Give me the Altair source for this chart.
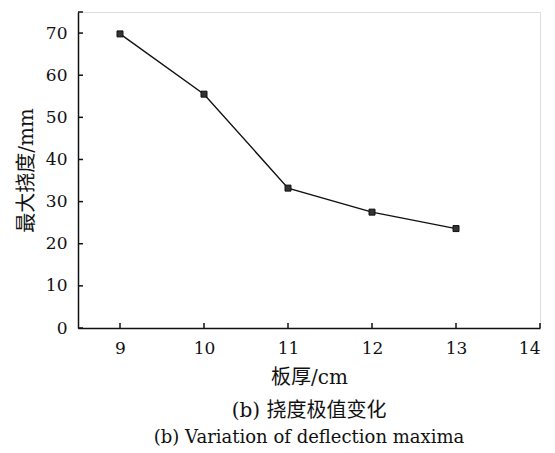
import altair as alt
import pandas as pd

thickness = [9, 10, 11, 12, 13]
deflection = [69.8, 55.5, 33.2, 27.5, 23.6]
x_ticks = [9, 10, 11, 12, 13, 14]
y_ticks = [0, 10, 20, 30, 40, 50, 60, 70, 75]

FONT = "DejaVu Serif, Noto Sans CJK SC"
W, H = 462, 316

df = pd.DataFrame({"t": thickness, "d": deflection})
xs = alt.Scale(domain=[8.5, 14], nice=False, zero=False)
ys = alt.Scale(domain=[0, 75], nice=False)

common = dict(ticks=False, grid=False, labelFontSize=17, labelColor="#111",
              titleFontSize=20, titleColor="#111", titleFontWeight="normal",
              labelFont=FONT, titleFont=FONT, domainColor="#111", domainWidth=1.5,
              format="d")
x_axis = alt.Axis(values=x_ticks, labelPadding=12, titlePadding=11, **common)
y_axis = alt.Axis(values=y_ticks[:-1], labelPadding=11, titlePadding=9, **common)

line = alt.Chart(df).mark_line(color="#111", strokeWidth=1.4).encode(
    x=alt.X("t:Q", scale=xs, axis=x_axis, title="板厚/cm"),
    y=alt.Y("d:Q", scale=ys, axis=y_axis, title="最大挠度/mm"),
)
pts = alt.Chart(df).mark_point(shape="square", filled=True, color="#333", size=36,
                               stroke="#111", strokeWidth=1, opacity=1).encode(
    x=alt.X("t:Q", scale=xs), y=alt.Y("d:Q", scale=ys))

xt = alt.Chart(pd.DataFrame({"v": x_ticks})).mark_rule(color="#111", strokeWidth=1.5).encode(
    x=alt.X("v:Q", scale=xs), y=alt.value(H), y2=alt.value(H - 5))
yt = alt.Chart(pd.DataFrame({"v": y_ticks})).mark_rule(color="#111", strokeWidth=1.5).encode(
    y=alt.Y("v:Q", scale=ys), x=alt.value(0), x2=alt.value(5))

chart = alt.layer(line, pts, xt, yt).properties(
    width=W, height=H,
    autosize=alt.AutoSizeParams(type="none"),
    padding={"left": 78, "top": 12, "right": 15, "bottom": 125},
    title=alt.TitleParams(text="(b) 挠度极值变化", subtitle="(b) Variation of deflection maxima",
                          orient="bottom", anchor="middle", font=FONT, fontSize=20,
                          fontWeight="normal", color="#111", subtitleFont=FONT,
                          subtitleFontSize=18, subtitleColor="#111", subtitlePadding=8, offset=14),
).configure_view(stroke=None).configure(background="white")

chart.save("out.html", embed_options={"renderer": "svg", "actions": False})
